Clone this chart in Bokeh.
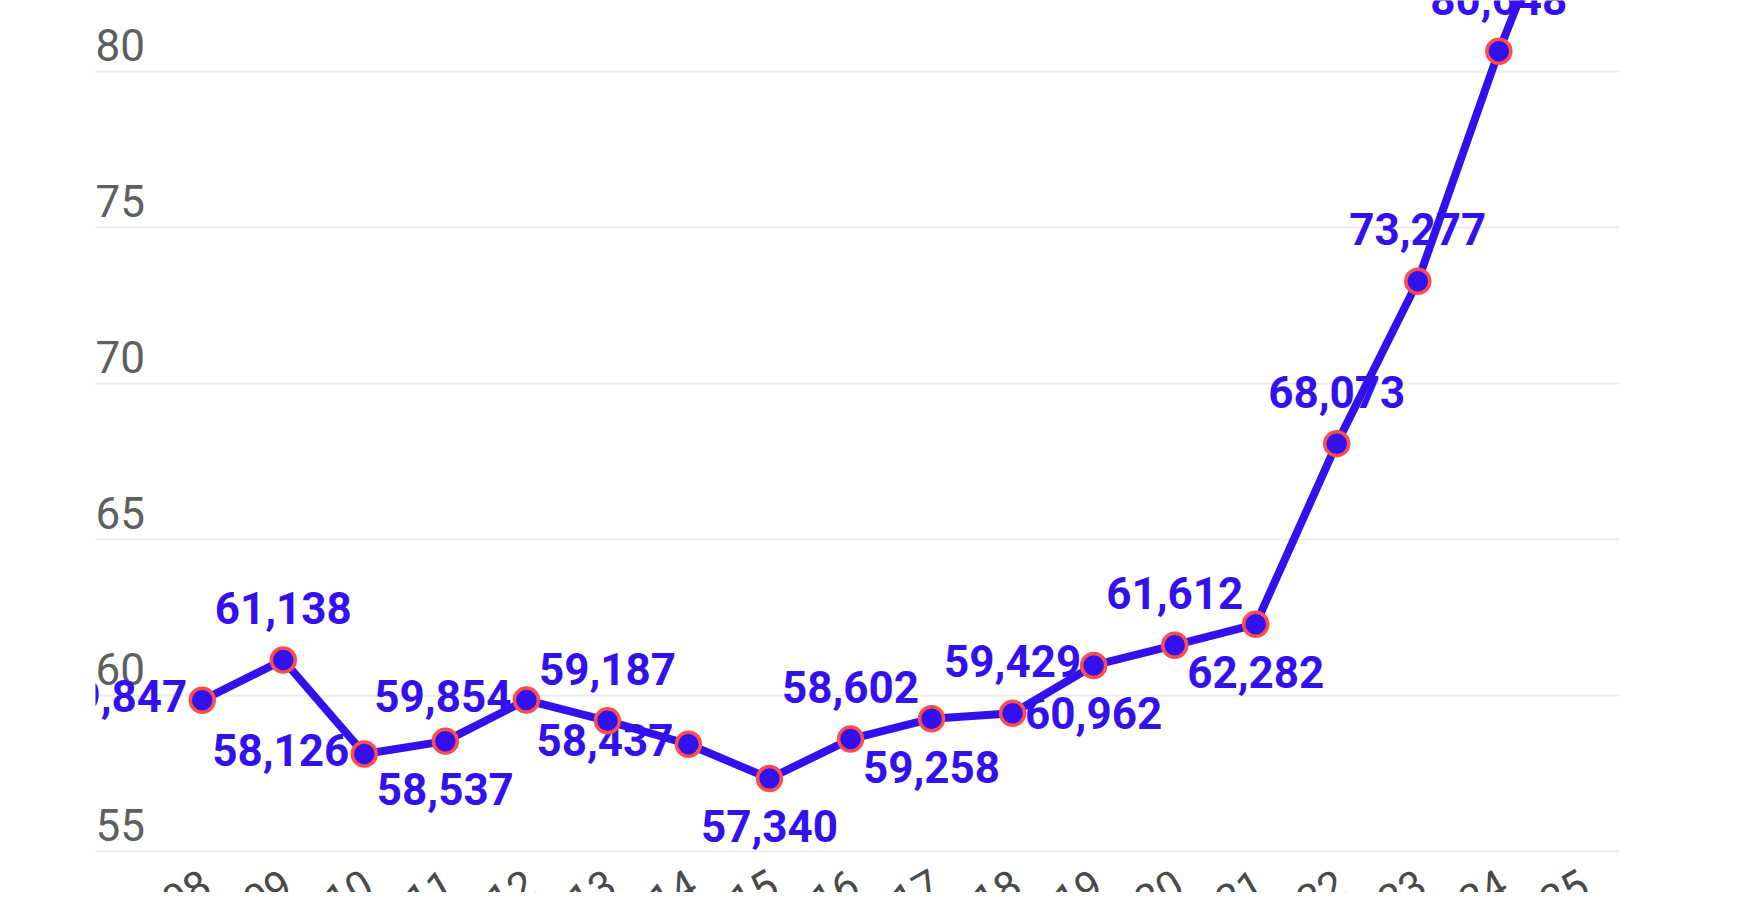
import math
from bokeh.plotting import figure
from bokeh.models import ColumnDataSource, Range1d, FixedTicker
from bokeh.core.properties import value
from bokeh.embed import file_html
from bokeh.resources import INLINE

# ---- data ----
years = [2008, 2009, 2010, 2011, 2012, 2013, 2014, 2015, 2016, 2017, 2018,
         2019, 2020, 2021, 2022, 2023, 2024, 2025]
values = [59847, 61138, 58126, 58537, 59854, 59187, 58437, 57340, 58602, 59258,
          59429, 60962, 61612, 62282, 68073, 73277, 80648, 87200]
label_pos = ["left", "above", "left", "below", "left", "above", "left", "below",
             "above", "below", "above", "below", "above", "below", "above",
             "above", "above", "none"]
x_labels = [str(y) for y in years]
y_ticks = [55, 60, 65, 70, 75, 80]

BLUE = "#3311EE"
RED = "#FF4D4D"
GRAY = "#5f5f5f"
FONT = "Roboto"

p = figure(width=1619, height=892, output_backend="svg", toolbar_location=None,
           x_range=Range1d(2006.683, 2025.489), y_range=Range1d(53.686, 82.276),
           min_border_left=95, min_border_right=0, min_border_top=0, min_border_bottom=0)
p.xaxis.visible = False
p.yaxis.visible = False
p.xgrid.visible = False
p.ygrid.ticker = FixedTicker(ticks=y_ticks)
p.ygrid.grid_line_color = "#ebebeb"
p.ygrid.grid_line_width = 2
p.outline_line_color = None
p.background_fill_color = "white"
p.border_fill_color = "white"

ys = [v / 1000 for v in values]
src = ColumnDataSource(dict(x=years, y=ys, txt=[f"{v:,}" for v in values]))

# y tick labels drawn inside the plot, above their gridlines
p.text(x=[p.x_range.start] * len(y_ticks), y=y_ticks, text=[str(t) for t in y_ticks],
       text_font=value(FONT), text_font_size="44px", text_color=GRAY,
       text_align="left", text_baseline="alphabetic", y_offset=-27)

# x labels, slanted
p.text(x=years, y=[55] * len(years), text=x_labels, angle=math.pi / 6,
       text_font=value(FONT), text_font_size="42px", text_color="#4a4a4a",
       text_align="right", text_baseline="top", x_offset=-3, y_offset=16)

# data labels
groups = {
    "above": dict(text_align="center", x_offset=0, y_offset=-52),
    "below": dict(text_align="center", x_offset=0, y_offset=48),
    "left": dict(text_align="right", x_offset=-15, y_offset=-4),
}
for pos, kw in groups.items():
    idx = [i for i, lp in enumerate(label_pos) if lp == pos]
    s = ColumnDataSource(dict(x=[years[i] for i in idx], y=[ys[i] for i in idx],
                              txt=[f"{values[i]:,}" for i in idx]))
    p.text(x="x", y="y", text="txt", source=s, text_font=value(FONT),
           text_font_size="44px", text_font_style="bold", text_color=BLUE,
           text_baseline="alphabetic", **kw)

p.line(x="x", y="y", source=src, line_color=BLUE, line_width=8, line_join="round")
p.scatter(x="x", y="y", source=src, size=24, fill_color=BLUE, line_color=RED,
          line_width=3.5)

open("out.html", "w").write(file_html(p, INLINE))
